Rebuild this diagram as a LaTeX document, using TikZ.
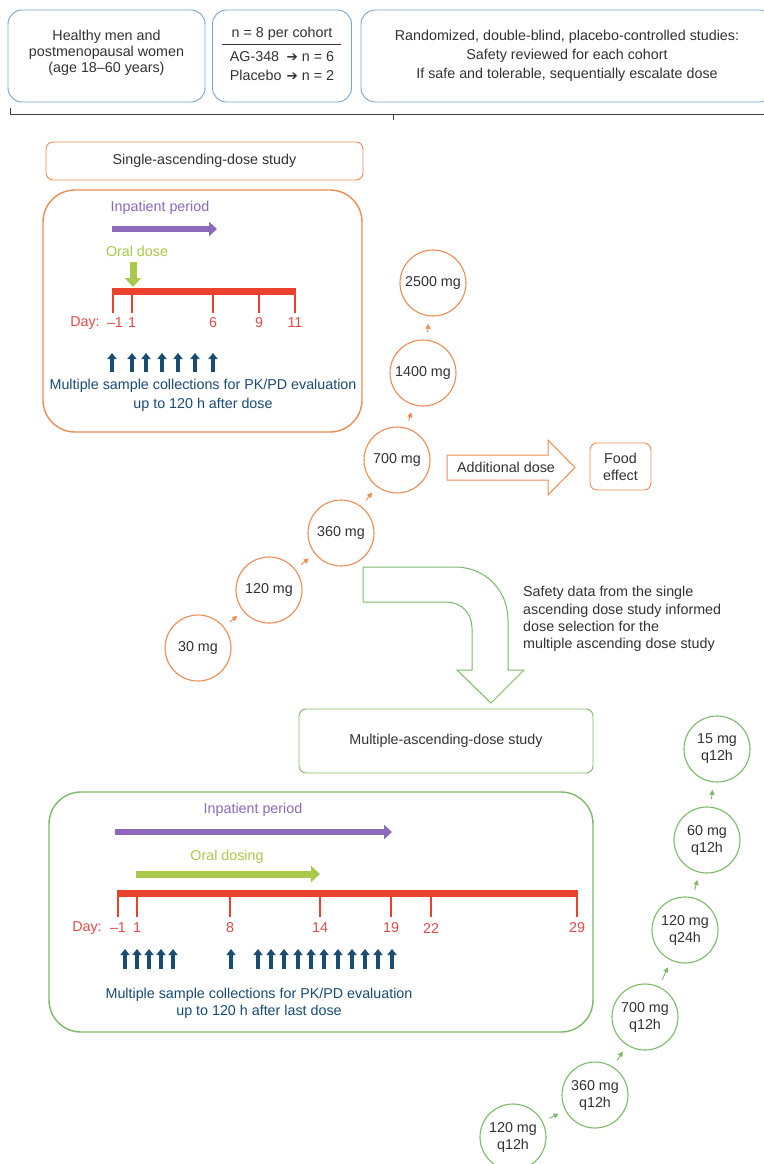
\documentclass[tikz,border=0pt]{standalone}
\usepackage{fontspec}
\setmainfont{Liberation Sans}
\newfontfamily\arrowfont{DejaVu Sans}
\usetikzlibrary{arrows.meta}

\definecolor{txtgray}{RGB}{50,50,50}
\definecolor{boxblue}{RGB}{120,165,210}
\definecolor{sadorange}{RGB}{238,140,85}
\definecolor{madgreen}{RGB}{125,185,105}
\definecolor{periodpurple}{RGB}{140,105,185}
\definecolor{dosinglime}{RGB}{170,200,75}
\definecolor{timered}{RGB}{235,65,45}
\definecolor{daytext}{RGB}{225,75,75}
\definecolor{samplenavy}{RGB}{25,75,115}
\definecolor{bracegray}{RGB}{60,60,60}

\newcommand{\heavyarr}{{\arrowfont\bfseries\fontsize{13.5}{13.5}\selectfont ➔}}

\begin{document}
\begin{tikzpicture}[x=1pt, y=-1pt,
  base/.style={font=\fontsize{14.3}{16}\selectfont, text=txtgray, inner sep=0pt},
  infobox/.style={draw=boxblue, line width=0.9pt, rounded corners=14pt, minimum height=92pt, inner sep=0pt},
  titlebox/.style={base, draw=#1, line width=0.9pt, rounded corners=7pt},
  bigbox/.style={draw=#1, line width=1.4pt, rounded corners=32pt, inner sep=0pt},
  dosecircle/.style={base, circle, draw=#1, line width=1.1pt, minimum size=66pt, fill=white, align=center,
    font=\fontsize{14.3}{17}\selectfont},
  escalate/.style={draw=#1, line width=0.9pt, -{Triangle[length=5pt,width=5pt]}, shorten <=7.5pt, shorten >=7.5pt},
  daylabel/.style={base, text=daytext},
  sample/.style={draw=samplenavy, line width=3.2pt, -{Triangle[length=6pt,width=9pt]}},
  tick/.style={draw=timered, line width=1.8pt},
  bar/.style={draw=timered, line width=7.5pt},
  period/.style={draw=periodpurple, line width=6.5pt, -{Triangle[length=8pt,width=14pt]}},
  dosing/.style={draw=dosinglime, line width=7pt, -{Triangle[length=9pt,width=16pt]}}]

\useasboundingbox (0,0) rectangle (763,1164);
\fill[white] (0,0) rectangle (763,1164);

% ---------- study population and design ----------
\node[infobox, minimum width=197pt] (popbox) at (106.5,56) {};
\node[base, align=center] (poptext) at (106.5,53)
  {Healthy men and\\postmenopausal women\\(age 18–60 years)};

\node[infobox, minimum width=139pt] (cohortbox) at (282,56) {};
\node[base] (cohorthead) at (282,34) {n = 8 per cohort};
\coordinate (ruleL) at (222,44.5);
\coordinate (ruleR) at (341,44.5);
\draw[txtgray, line width=1.6pt] (ruleL) -- (ruleR);
\node[base] (cohortsplit) at (282,67.5)
  {\renewcommand{\arraystretch}{1.18}\begin{tabular}{@{}l@{\hspace{5pt}}l@{}}AG-348 & \heavyarr\ n = 6\\Placebo & \heavyarr\ n = 2\end{tabular}};

\node[infobox, minimum width=412pt] (designbox) at (567,56) {};
\node[base, align=center, font=\fontsize{14.3}{19}\selectfont] (designtext) at (567,56)
  {Randomized, double-blind, placebo-controlled studies:\\Safety reviewed for each cohort\\If safe and tolerable, sequentially escalate dose};

% bracket under the header row
\coordinate (brL) at (10,108);
\coordinate (brLc) at (10,114);
\coordinate (brR) at (775,114);
\coordinate (brM) at (393,114);
\coordinate (brMt) at (393,120);
\draw[bracegray, line width=1pt] (brL) -- (brLc) -- (brR);
\draw[bracegray, line width=1pt] (brM) -- (brMt);

% ---------- single-ascending-dose study ----------
\node[titlebox=sadorange, minimum width=317pt, minimum height=38pt] (sadtitle) at (204.5,161) {Single-ascending-dose study};
\node[bigbox=sadorange, minimum width=319pt, minimum height=242pt] (sadbox) at (202.5,311) {};

\node[base, text=periodpurple] (sadperiod) at (160,208) {Inpatient period};
\draw[period] (112,229) -- (217,229);
\node[base, text=dosinglime] (saddose) at (137,251) {Oral dose};
\draw[dosing] (133,262) -- (133,287);

\draw[bar] (112,291.5) -- (296,291.5);
\foreach \x in {113,132,213,259,295} \draw[tick] (\x,291) -- (\x,313);
\node[daylabel] (sadday) at (85,323) {Day:};
\foreach \x/\d in {115/–1,132/1,213/6,259/9,295/11} \node[daylabel] at (\x,323) {\d};
\foreach \x in {112,132,146,162,178,195,213} \draw[sample] (\x,372) -- (\x,353);
\node[base, text=samplenavy, align=center, font=\fontsize{14.3}{19}\selectfont] (sadsamples) at (203,395)
  {Multiple sample collections for PK/PD evaluation\\up to 120 h after dose};

% dose escalation
\node[dosecircle=sadorange] (s30) at (198,648) {30 mg};
\node[dosecircle=sadorange] (s120) at (269,590) {120 mg};
\node[dosecircle=sadorange] (s360) at (341,533) {360 mg};
\node[dosecircle=sadorange] (s700) at (397,460) {700 mg};
\node[dosecircle=sadorange] (s1400) at (423,373) {1400 mg};
\node[dosecircle=sadorange] (s2500) at (433,283) {2500 mg};
\draw[escalate=sadorange] (s30) -- (s120);
\draw[escalate=sadorange] (s120) -- (s360);
\draw[escalate=sadorange] (s360) -- (s700);
\draw[escalate=sadorange] (s700) -- (s1400);
\draw[escalate=sadorange] (s1400) -- (s2500);

% food-effect cohort
\draw[sadorange, line width=1pt, fill=white]
  (447,455) -- (548,455) -- (548,440) -- (575,467.5) -- (548,495) -- (548,480) -- (447,480) -- cycle;
\node[base] (adddose) at (506,467) {Additional dose};
\node[titlebox=sadorange, minimum width=61pt, minimum height=47pt, align=center,
  font=\fontsize{14.3}{17}\selectfont] (food) at (620.5,466.5) {Food\\effect};

% ---------- hand-over to the multiple-ascending-dose study ----------
\draw[madgreen, line width=1pt, fill=white]
  (363,567) -- (455,567) .. controls (485,567) and (508,590) .. (508,620)
  -- (508,670) -- (524,670) -- (491,703) -- (457,670) -- (472,670) -- (472,628)
  .. controls (472,613) and (461,602) .. (446,602) -- (363,602) -- cycle;
\node[base, align=left, font=\fontsize{14.3}{17.3}\selectfont, anchor=west] (handover) at (523,619)
  {Safety data from the single\\ascending dose study informed\\dose selection for the\\multiple ascending dose study};

% ---------- multiple-ascending-dose study ----------
\node[titlebox=madgreen, minimum width=294pt, minimum height=64pt] (madtitle) at (446,741) {Multiple-ascending-dose study};
\node[bigbox=madgreen, minimum width=544pt, minimum height=240pt] (madbox) at (321,912) {};

\node[base, text=periodpurple] (madperiod) at (253,810) {Inpatient period};
\draw[period] (115,832) -- (392,832);
\node[base, text=dosinglime] (maddose) at (227,857) {Oral dosing};
\draw[dosing] (136,874) -- (320,874);

\draw[bar] (117,893.5) -- (578,893.5);
\foreach \x in {118,137,230,320,391,431,577} \draw[tick] (\x,893) -- (\x,917);
\node[daylabel] (madday) at (87,928) {Day:};
\foreach \x/\d in {118/–1,137/1,230/8,320/14,391/19,431/22,577/29} \node[daylabel] at (\x,928) {\d};
\foreach \x in {125,137,149,161,173,231,258,271,284,298,311,324,338,352,365,378,392}
  \draw[sample] (\x,969) -- (\x,949);
\node[base, text=samplenavy, align=center, font=\fontsize{14.3}{17}\selectfont] (madsamples) at (259,1003.5)
  {Multiple sample collections for PK/PD evaluation\\up to 120 h after last dose};

% dose escalation
\node[dosecircle=madgreen] (m120a) at (513,1137) {120 mg\\q12h};
\node[dosecircle=madgreen] (m360) at (595,1095) {360 mg\\q12h};
\node[dosecircle=madgreen] (m700) at (645,1017) {700 mg\\q12h};
\node[dosecircle=madgreen] (m120b) at (685,930) {120 mg\\q24h};
\node[dosecircle=madgreen] (m60) at (707,840) {60 mg\\q12h};
\node[dosecircle=madgreen] (m15) at (717,749) {15 mg\\q12h};
\draw[escalate=madgreen] (m120a) -- (m360);
\draw[escalate=madgreen] (m360) -- (m700);
\draw[escalate=madgreen] (m700) -- (m120b);
\draw[escalate=madgreen] (m120b) -- (m60);
\draw[escalate=madgreen] (m60) -- (m15);

\end{tikzpicture}
\end{document}
